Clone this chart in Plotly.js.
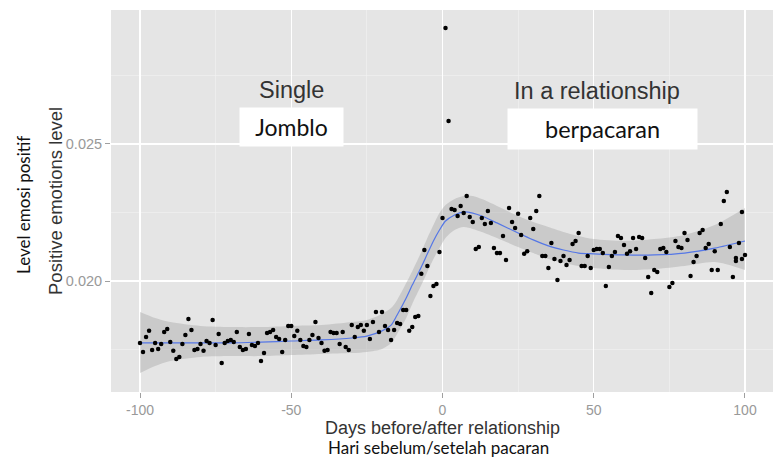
<!DOCTYPE html>
<html>
<head>
<meta charset="utf-8">
<script src="https://cdn.plot.ly/plotly-3.0.1.min.js"></script>
<style>html,body{margin:0;padding:0;background:#fff;}#chart{width:773px;height:460px;}</style>
</head>
<body>
<div id="chart"></div>
<script>
// ---- data ----
const days = [
-100,-99,-98,-97,-96,-95,-94,-93,-92,-91,-90,-89,-88,-87,-86,-85,-84,-83,-82,-81,
-80,-79,-78,-77,-76,-75,-74,-73,-72,-71,-70,-69,-68,-67,-66,-65,-64,-63,-62,-61,
-60,-59,-58,-57,-56,-55,-54,-53,-52,-51,-50,-49,-48,-47,-46,-45,-44,-43,-42,-41,
-40,-39,-38,-37,-36,-35,-34,-33,-32,-31,-30,-29,-28,-27,-26,-25,-24,-23,-22,-21,
-20,-19,-18,-17,-16,-15,-14,-13,-12,-11,-10,-9,-8,-7,-6,-5,-4,-3,-2,-1,
0,1,2,3,4,5,6,7,8,9,10,11,12,13,14,15,16,17,18,19,
20,21,22,23,24,25,26,27,28,29,30,31,32,33,34,35,36,37,38,39,
40,41,42,43,44,45,46,47,48,49,50,51,52,53,54,55,56,57,58,59,
60,61,62,63,64,65,66,67,68,69,70,71,72,73,74,75,76,77,78,79,
80,81,82,83,84,85,86,87,88,89,90,91,92,93,94,95,96,97,97,98,99,99,100];
const emotion = [
0.01774,0.01741,0.01796,0.01818,0.01748,0.01774,0.01752,0.01770,0.01814,0.01825,
0.01777,0.01745,0.01715,0.01723,0.01770,0.01803,0.01861,0.01821,0.01748,0.01752,
0.01770,0.01745,0.01781,0.01774,0.01858,0.01766,0.01807,0.01701,0.01774,0.01781,
0.01785,0.01777,0.01814,0.01759,0.01748,0.01752,0.01807,0.01766,0.01763,0.01774,
0.01708,0.01737,0.01810,0.01814,0.01821,0.01796,0.01788,0.01741,0.01785,0.01836,
0.01836,0.01799,0.01818,0.01785,0.01763,0.01759,0.01785,0.01803,0.01850,0.01792,
0.01774,0.01745,0.01748,0.01814,0.01810,0.01810,0.01770,0.01814,0.01759,0.01748,
0.01839,0.01796,0.01832,0.01839,0.01818,0.01839,0.01788,0.01850,0.01887,0.01814,
0.01887,0.01836,0.01821,0.01785,0.01821,0.01847,0.01843,0.01894,0.01894,0.01818,
0.01832,0.01869,0.01872,0.02026,0.02113,0.02055,0.01945,0.01982,0.01989,0.02106,
0.02230,0.02923,0.02584,0.02263,0.02259,0.02237,0.02274,0.02248,0.02310,0.02234,
0.02215,0.02117,0.02124,0.02230,0.02208,0.02255,0.02212,0.02120,0.02102,0.02102,
0.02164,0.02077,0.02266,0.02215,0.02193,0.02245,0.02168,0.02099,0.02109,0.02230,
0.02190,0.02255,0.02310,0.02091,0.02091,0.02047,0.02139,0.02080,0.02004,0.02073,
0.02091,0.02058,0.02077,0.02135,0.02146,0.02175,0.02055,0.02055,0.02091,0.02047,
0.02113,0.02117,0.02117,0.02102,0.01982,0.02051,0.02091,0.02106,0.02164,0.02157,
0.02131,0.02099,0.02109,0.02157,0.02117,0.02161,0.02157,0.02084,0.02015,0.01956,
0.02040,0.02033,0.02117,0.02120,0.02106,0.01978,0.01993,0.02146,0.02124,0.02120,
0.02175,0.02150,0.02018,0.02069,0.02091,0.02175,0.02186,0.02120,0.02135,0.02040,
0.02109,0.02040,0.02208,0.02292,0.02325,0.02124,0.02015,0.02073,0.02084,0.02139,
0.02252,0.02080,0.02095];

const smoothDays = [-100,-95,-90,-80,-70,-60,-50,-40,-30,-25,-20,-17,-15,-12,-10,-7,-5,-3,-1,1,4,7,10,13,18,25,30,35,40,45,50,60,70,80,90,100];
const smoothFit = [0.01774,0.01774,0.01774,0.01774,0.01774,0.01777,0.01781,0.01785,0.01792,0.01799,0.01818,0.01839,0.01876,0.01938,0.01985,0.02051,0.02099,0.02146,0.02186,0.02219,0.02241,0.02252,0.02248,0.02237,0.02212,0.02175,0.02150,0.02128,0.02113,0.02102,0.02099,0.02095,0.02095,0.02102,0.02120,0.02146];
const smoothUpper = [0.01887,0.01865,0.01850,0.01836,0.01832,0.01832,0.01836,0.01839,0.01850,0.01858,0.01880,0.01901,0.01931,0.01993,0.02036,0.02106,0.02157,0.02204,0.02248,0.02277,0.02299,0.02310,0.02310,0.02299,0.02274,0.02237,0.02215,0.02197,0.02179,0.02164,0.02153,0.02146,0.02153,0.02168,0.02204,0.02266];
const smoothLower = [0.01664,0.01690,0.01708,0.01723,0.01726,0.01726,0.01730,0.01734,0.01737,0.01741,0.01752,0.01774,0.01807,0.01865,0.01916,0.01985,0.02033,0.02080,0.02120,0.02157,0.02186,0.02197,0.02190,0.02179,0.02157,0.02124,0.02102,0.02080,0.02066,0.02055,0.02047,0.02040,0.02044,0.02055,0.02069,0.02040];

const xTicks = [-100,-50,0,50,100];
const xTickLabels = ['-100','-50','0','50','100'];
const xMinor = [-75,-25,25,75];
const yTicks = [0.020,0.025];
const yTickLabels = ['0.020','0.025'];
const yMinor = [0.0175,0.0225,0.0275];

const arial = 'Liberation Sans, Arial, Helvetica, sans-serif';
const calibriLike = 'Lato, Open Sans, sans-serif';

const traces = [
  {x: smoothDays, y: smoothLower, type:'scatter', mode:'lines', line:{width:0, shape:'spline', smoothing:0.8}, hoverinfo:'skip', showlegend:false},
  {x: smoothDays, y: smoothUpper, type:'scatter', mode:'lines', fill:'tonexty', fillcolor:'rgba(153,153,153,0.35)', line:{width:0, shape:'spline', smoothing:0.8}, hoverinfo:'skip', showlegend:false},
  {x: smoothDays, y: smoothFit, type:'scatter', mode:'lines', line:{color:'#5577e6', width:1.2, shape:'spline', smoothing:0.8}, showlegend:false},
  {x: days, y: emotion, type:'scatter', mode:'markers', marker:{color:'#000', size:4.5}, showlegend:false}
];

const layout = {
  width:773, height:460,
  margin:{l:111, r:0, t:10, b:68},
  paper_bgcolor:'#ffffff', plot_bgcolor:'#e5e5e5',
  showlegend:false,
  xaxis:{
    range:[-109.59,109.26], tickmode:'array', tickvals:xTicks, ticktext:xTickLabels,
    showgrid:true, gridcolor:'#ffffff', gridwidth:1.2, zeroline:false, showline:false,
    ticks:'outside', ticklen:5, tickwidth:1, tickcolor:'#a0a0a0',
    tickfont:{family:arial, size:14, color:'#999999'},
    minor:{tickmode:'array', tickvals:xMinor, showgrid:true, gridcolor:'#f2f2f2', gridwidth:0.6}
  },
  yaxis:{
    range:[0.015949,0.02989], tickmode:'array', tickvals:yTicks, ticktext:yTickLabels,
    showgrid:true, gridcolor:'#ffffff', gridwidth:1.2, zeroline:false, showline:false,
    ticks:'outside', ticklen:5, tickwidth:1, tickcolor:'#a0a0a0',
    tickfont:{family:arial, size:14.5, color:'#999999'},
    minor:{tickmode:'array', tickvals:yMinor, showgrid:true, gridcolor:'#f2f2f2', gridwidth:0.6}
  },
  annotations:[
    {text:'Days before/after relationship', xref:'paper', yref:'paper', x:0.5, y:-0.095, xanchor:'center', yanchor:'middle', showarrow:false, font:{family:arial, size:18, color:'#333333'}},
    {text:'Hari sebelum/setelah pacaran', xref:'paper', yref:'paper', x:0.494, y:-0.146, xanchor:'center', yanchor:'middle', showarrow:false, font:{family:calibriLike, size:17, color:'#111111'}},
    {text:'Positive emotions level', xref:'paper', yref:'paper', x:-0.0846, y:0.5, xanchor:'center', yanchor:'middle', textangle:-90, showarrow:false, font:{family:arial, size:18.5, color:'#333333'}},
    {text:'Level emosi positif', xref:'paper', yref:'paper', x:-0.133, y:0.4895, xanchor:'center', yanchor:'middle', textangle:-90, showarrow:false, font:{family:calibriLike, size:17, color:'#111111'}},
    {text:'Single', xref:'paper', yref:'paper', x:0.2734, y:0.7906, xanchor:'center', yanchor:'middle', showarrow:false, font:{family:arial, size:23.5, color:'#333333'}},
    {text:'Jomblo', xref:'paper', yref:'paper', x:0.2727, y:0.6937, xanchor:'center', yanchor:'middle', showarrow:false, width:103, height:38, bgcolor:'#ffffff', borderpad:0, font:{family:calibriLike, size:23, color:'#111111'}},
    {text:'In a relationship', xref:'paper', yref:'paper', x:0.7341, y:0.788, xanchor:'center', yanchor:'middle', showarrow:false, font:{family:arial, size:23.5, color:'#333333'}},
    {text:'berpacaran', xref:'paper', yref:'paper', x:0.7425, y:0.6885, xanchor:'center', yanchor:'middle', showarrow:false, width:189, height:40, bgcolor:'#ffffff', borderpad:0, font:{family:calibriLike, size:23.5, color:'#111111'}}
  ]
};

Plotly.newPlot('chart', traces, layout, {displayModeBar:false, staticPlot:true});
</script>
</body>
</html>
